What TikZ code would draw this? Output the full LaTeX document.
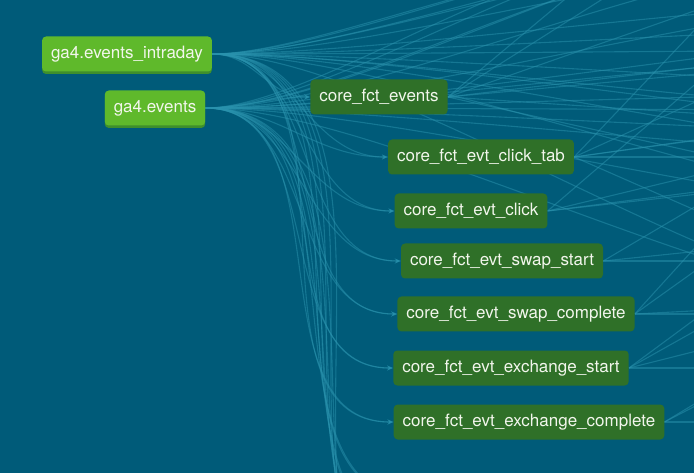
\documentclass[tikz,border=0pt]{standalone}
\usepackage{fontspec}
\setmainfont{TeX Gyre Heros}
\usepackage{xcolor}
\usepackage{tikz}
\usetikzlibrary{arrows.meta, positioning, shapes, shadows}

\definecolor{bgteal}{HTML}{005B79}
\definecolor{edgeteal}{HTML}{2A93AE}
\definecolor{srcgreen}{HTML}{5FB92B}
\definecolor{srcshade}{HTML}{3E8F2C}
\definecolor{modgreen}{HTML}{2F7028}
\definecolor{labelwhite}{HTML}{F2F6EC}

\pgfdeclarelayer{bglayer}
\pgfdeclarelayer{edgelayer}
\pgfsetlayers{bglayer,edgelayer,main}

\tikzset{
  basenode/.style={rounded corners=4pt, text=labelwhite, minimum height=35pt,
    inner xsep=9pt, font=\fontsize{17}{20}\selectfont},
  srcnode/.style={basenode, fill=srcgreen,
    drop shadow={shadow xshift=0pt, shadow yshift=-2.5pt, fill=srcshade, opacity=1}},
  modnode/.style={basenode, fill=modgreen},
  edge/.style={edgeteal, line width=1.1pt, opacity=0.5},
  link/.style={edge, -{Stealth[length=6pt, width=5pt]}}
}

\begin{document}
\begin{tikzpicture}[x=1pt, y=-1pt]
      % Background and frame
      \begin{pgfonlayer}{bglayer}
        \fill[bgteal] (0,0) rectangle (694,473);
      \end{pgfonlayer}
      \clip (0,0) rectangle (694,473);

      % Sources
      \node[srcnode] (intraday) at (127,54) {ga4.events\_intraday};
      \node[srcnode] (events) at (155,108) {ga4.events};

      % Models
      \node[modnode] (evts) at (379,97) {core\_fct\_events};
      \node[modnode] (clicktab) at (481,157) {core\_fct\_evt\_click\_tab};
      \node[modnode] (click) at (471,211) {core\_fct\_evt\_click};
      \node[modnode] (swapstart) at (502,261) {core\_fct\_evt\_swap\_start};
      \node[modnode] (swapdone) at (516,314) {core\_fct\_evt\_swap\_complete};
      \node[modnode] (exstart) at (511,368) {core\_fct\_evt\_exchange\_start};
      \node[modnode] (exdone) at (529,422) {core\_fct\_evt\_exchange\_complete};

      % Off-screen ends of the lineage
      \foreach \n/\x/\y in {a/600/-30, b/720/-40, c/840/-40, d/920/0, e/960/50,
                            f/920/110, g/1000/160, h/1000/220, i/780/-60, j/1100/20,
                            k/1050/90, l/900/300, m/680/-50, n/1100/140} {
        \coordinate (far\n) at (\x,\y);
      }
      \foreach \n/\x/\y in {a/420/500, b/430/540, c/440/580, d/450/620, e/460/660} {
        \coordinate (low\n) at (\x,\y);
      }

      \begin{pgfonlayer}{edgelayer}
      % Fan from the sources to the right
      \foreach \n in {a,b,c,d,e,f,g,h,i,j,k,l,m,n} {
        \draw[edge] (intraday.east) to[out=0, in=180, looseness=0.6] (far\n);
        \draw[edge] (events.east) to[out=0, in=180, looseness=0.6] (far\n);
      }

      % Sources down past the bottom
      \foreach \n in {a,b,c,d,e} {
        \draw[edge] (events.east) to[out=0, in=180] (low\n);
        \draw[edge] (intraday.east) to[out=0, in=180] (low\n);
      }

      % Sources into the models
      \foreach \t in {evts,clicktab,click,swapstart,swapdone,exstart,exdone} {
        \draw[link] (events.east) to[out=0, in=180] (\t.west);
        \draw[link] (intraday.east) to[out=0, in=180] (\t.west);
      }

      % Models on to the right
      \foreach \s/\t in {evts/a, evts/c, evts/e, evts/h, evts/m, evts/j, evts/n,
                         clicktab/d, clicktab/f, clicktab/l, clicktab/i, clicktab/k,
                         click/g, click/k, click/c, click/n, swapstart/h, swapstart/e,
                         swapdone/l, swapdone/f, swapdone/d,
                         exstart/l, exstart/g, exstart/j, exdone/l, exdone/h} {
        \draw[edge] (\s.east) -- (far\t);
      }
      \foreach \s in {exdone,exstart,swapdone,swapstart,clicktab} {
        \draw[edge] (\s.east) -- ++(120,0) coordinate (right\s);
      }
      \end{pgfonlayer}
\end{tikzpicture}
\end{document}
